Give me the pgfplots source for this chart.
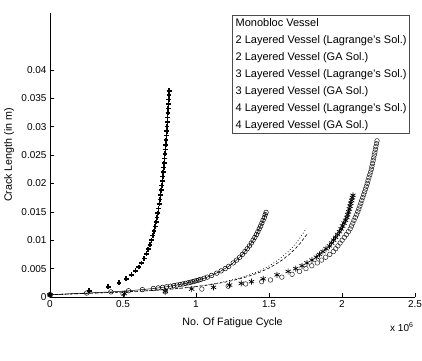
\documentclass[border=0pt]{standalone}
\usepackage{fontspec}
\setmainfont{Liberation Sans}
\usepackage{pgfplots}
\pgfplotsset{compat=1.18}
\begin{document}
\begin{tikzpicture}
\useasboundingbox (-50pt,-63pt) rectangle (372pt,297pt);
\begin{axis}[
  at={(0pt,0pt)}, anchor=south west,
  scale only axis, width=365pt, height=284pt,
  xmin=0, xmax=2.5, ymin=0, ymax=0.05,
  scaled x ticks=false, scaled y ticks=false,
  axis x line=bottom, axis y line=left,
  axis line style={-, line width=0.6pt, black},
  tick align=inside, major tick length=4pt,
  tick style={line width=0.6pt, black},
  xtick={0,0.5,1,1.5,2,2.5},
  xticklabels={0,0.5,1,1.5,2,2.5},
  ytick={0,0.005,0.01,0.015,0.02,0.025,0.03,0.035,0.04},
  yticklabels={0,0.005,0.01,0.015,0.02,0.025,0.03,0.035,0.04},
  ticklabel style={font=\fontsize{10}{12}\selectfont},
  xlabel={No. Of Fatigue Cycle},
  ylabel={Crack Length (in m)},
  label style={font=\fontsize{10.7}{12}\selectfont},
  xlabel style={at={(axis description cs:0.5,-0.0915)}, anchor=center},
  ylabel style={at={(axis description cs:-0.112,0.5)}, anchor=center, rotate=0},
  clip=false,
  legend cell align=left,
  legend image code/.code={},
  legend style={at={(axis description cs:0.986,0.993)}, anchor=north east,
    draw=black!70, line width=0.5pt, fill=white,
    font=\fontsize{11}{13}\selectfont,
    inner xsep=1pt, inner ysep=1pt, row sep=3pt,
    cells={inner sep=1pt, text height=8.5pt, text depth=2.5pt}},
]
% Monobloc Vessel
\addplot[forget plot, only marks, mark=+, mark size=2.4pt, mark options={line width=1.6pt, black}] coordinates {
(0,0.0004) (0.269,0.0011) (0.399,0.0018) (0.473,0.0025) (0.522,0.0032) (0.558,0.0039)
(0.586,0.0046) (0.608,0.0053) (0.627,0.006) (0.645,0.0068) (0.660,0.0076) (0.673,0.0084)
(0.685,0.0092) (0.695,0.01) (0.704,0.0108) (0.712,0.0116) (0.720,0.0124) (0.727,0.0132)
(0.733,0.014) (0.739,0.0148) (0.744,0.0156) (0.749,0.0164) (0.754,0.0172) (0.758,0.018)
(0.762,0.0188) (0.766,0.0196) (0.770,0.0204) (0.773,0.0212) (0.776,0.022) (0.779,0.0228)
(0.782,0.0236) (0.785,0.0244) (0.788,0.0252) (0.790,0.026) (0.793,0.0268) (0.795,0.0276)
(0.797,0.0284) (0.800,0.0292) (0.802,0.03) (0.804,0.0308) (0.806,0.0316) (0.808,0.0324)
(0.809,0.0332) (0.811,0.034) (0.813,0.0348) (0.815,0.0356) (0.816,0.0363)};
% 2 Layered Lagrange (line)
\addplot[forget plot, black, line width=0.5pt, no marks] coordinates {
(0,0.0004) (0.251,0.0007) (0.417,0.0009) (0.538,0.0011) (0.633,0.0013) (0.708,0.0015)
(0.771,0.0017) (0.848,0.002) (0.928,0.0024) (0.992,0.0028) (1.056,0.0033) (1.107,0.0038)
(1.172,0.0046) (1.224,0.0054) (1.255,0.006) (1.299,0.007) (1.335,0.008) (1.366,0.009)
(1.391,0.01) (1.414,0.011) (1.433,0.012) (1.451,0.013) (1.468,0.014) (1.480,0.0149)};
% 2 Layered GA (circles)
\addplot[forget plot, only marks, mark=o, mark size=2.3pt, mark options={line width=0.5pt, black}] coordinates {
(0,0.0004) (0.251,0.0007) (0.417,0.0009) (0.538,0.0011) (0.633,0.0013) (0.708,0.0015)
(0.741,0.0016) (0.771,0.0017) (0.799,0.0018) (0.824,0.0019) (0.848,0.002) (0.870,0.0021)
(0.891,0.0022) (0.910,0.0023) (0.928,0.0024) (0.946,0.0025) (0.963,0.0026) (0.978,0.0027)
(0.992,0.0028) (1.006,0.0029) (1.020,0.003) (1.032,0.0031) (1.056,0.0033) (1.078,0.0035)
(1.107,0.0038) (1.142,0.0042) (1.172,0.0046) (1.200,0.005) (1.224,0.0054) (1.255,0.006)
(1.278,0.0065) (1.299,0.007) (1.318,0.0075) (1.335,0.008) (1.351,0.0085) (1.366,0.009)
(1.379,0.0095) (1.391,0.01) (1.403,0.0105) (1.414,0.011) (1.424,0.0115) (1.433,0.012)
(1.443,0.0125) (1.451,0.013) (1.459,0.0135) (1.468,0.014) (1.474,0.0145) (1.480,0.0149)};
% 3 Layered Lagrange (dashed)
\addplot[forget plot, black, line width=0.6pt, dash pattern=on 3pt off 2pt, no marks] coordinates {
(0,0.0004) (0.312,0.0007) (0.519,0.0009) (0.670,0.0011) (0.787,0.0013) (0.880,0.0015)
(0.959,0.0017) (1.055,0.002) (1.154,0.0024) (1.234,0.0028) (1.313,0.0033) (1.377,0.0038)
(1.440,0.0044) (1.492,0.005) (1.535,0.0056) (1.589,0.0065) (1.639,0.0075) (1.680,0.0085)
(1.715,0.0095) (1.744,0.0105) (1.759,0.011)};
% 3 Layered GA (dotted)
\addplot[forget plot, black, line width=0.7pt, dash pattern=on 0.8pt off 2.2pt, no marks] coordinates {
(0,0.0004) (0.306,0.0007) (0.510,0.0009) (0.658,0.0011) (0.774,0.0013) (0.866,0.0015)
(0.942,0.0017) (1.037,0.002) (1.135,0.0024) (1.213,0.0028) (1.291,0.0033) (1.354,0.0038)
(1.415,0.0044) (1.467,0.005) (1.509,0.0056) (1.562,0.0065) (1.611,0.0075) (1.652,0.0085)
(1.686,0.0095) (1.715,0.0105) (1.741,0.0115) (1.754,0.0121)};
% 4 Layered Lagrange (circles)
\addplot[forget plot, only marks, mark=o, mark size=2.3pt, mark options={line width=0.5pt, black!85}] coordinates {
(0,0.0004) (0.50,0.0006) (0.79,0.0009) (1.04,0.0014) (1.22,0.0019) (1.34,0.0023) (1.45,0.0027)
(1.510,0.003) (1.588,0.0035) (1.658,0.004) (1.709,0.0045) (1.753,0.005) (1.793,0.0055)
(1.831,0.006) (1.860,0.0065) (1.888,0.007) (1.916,0.0075) (1.941,0.008) (1.957,0.0085)
(1.972,0.009) (1.987,0.0095) (2.001,0.01) (2.016,0.0105) (2.030,0.011) (2.044,0.0115)
(2.056,0.012) (2.065,0.0125) (2.074,0.013) (2.082,0.0135) (2.091,0.014) (2.100,0.0145)
(2.108,0.015) (2.115,0.0155) (2.122,0.016) (2.129,0.0165) (2.135,0.017) (2.142,0.0175)
(2.148,0.018) (2.155,0.0185) (2.161,0.019) (2.167,0.0195) (2.173,0.02) (2.178,0.0205)
(2.184,0.021) (2.190,0.0215) (2.196,0.022) (2.201,0.0225) (2.205,0.023) (2.209,0.0235)
(2.213,0.024) (2.217,0.0245) (2.221,0.025) (2.225,0.0255) (2.229,0.026) (2.232,0.0265)
(2.236,0.027) (2.240,0.0275)};
% 4 Layered GA (asterisks)
\addplot[forget plot, only marks, mark=asterisk, mark size=3pt, mark options={line width=0.7pt, black}] coordinates {
(0,0.0004) (0.51,0.0006) (0.79,0.0010) (0.97,0.0014) (1.12,0.0017) (1.23,0.0021)
(1.31,0.0024) (1.38,0.0027) (1.46,0.0032) (1.555,0.0039) (1.631,0.0045) (1.683,0.005)
(1.726,0.0055) (1.760,0.006) (1.794,0.0065) (1.824,0.007) (1.846,0.0075) (1.869,0.008)
(1.891,0.0085) (1.914,0.009) (1.929,0.0095) (1.942,0.01) (1.956,0.0105) (1.970,0.011)
(1.983,0.0115) (1.994,0.012) (2.004,0.0125) (2.014,0.013) (2.024,0.0135) (2.034,0.014)
(2.039,0.0145) (2.045,0.015) (2.050,0.0155) (2.055,0.016) (2.060,0.0165) (2.066,0.017)
(2.071,0.0175) (2.075,0.0179)};
\addlegendimage{black}\addlegendentry{Monobloc Vessel}
\addlegendimage{black}\addlegendentry{2 Layered Vessel (Lagrange's Sol.)}
\addlegendimage{black}\addlegendentry{2 Layered Vessel (GA Sol.)}
\addlegendimage{black}\addlegendentry{3 Layered Vessel (Lagrange's Sol.)}
\addlegendimage{black}\addlegendentry{3 Layered Vessel (GA Sol.)}
\addlegendimage{black}\addlegendentry{4 Layered Vessel (Lagrange's Sol.)}
\addlegendimage{black}\addlegendentry{4 Layered Vessel (GA Sol.)}
\end{axis}
\node[anchor=base west, font=\fontsize{10}{12}\selectfont, inner sep=0pt] at (340pt,-34.5pt) {x 10\textsuperscript{6}};
\end{tikzpicture}
\end{document}
